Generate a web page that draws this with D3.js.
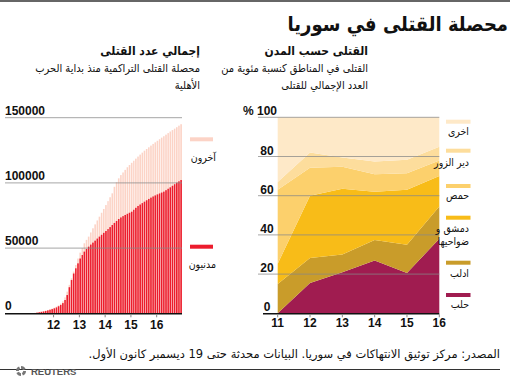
<!DOCTYPE html>
<html><head><meta charset="utf-8">
<script src="https://cdn.jsdelivr.net/npm/d3@7/dist/d3.min.js"></script>
<style>
html,body{margin:0;padding:0;background:#fff;}
svg{display:block;font-family:"Liberation Sans","DejaVu Sans",sans-serif;}
</style></head>
<body>
<svg id="c" width="510" height="378"></svg>
<script>
// ---------- DATA ----------
const title = "محصلة القتلى في سوريا";
const leftTitle = "إجمالي عدد القتلى";
const leftSub = ["محصلة القتلى التراكمية منذ بداية الحرب", "الأهلية"];
const rightTitle = "القتلى حسب المدن";
const rightSub = ["القتلى في المناطق كنسبة مئوية من", "العدد الإجمالي للقتلى"];
const footer = "المصدر: مركز توثيق الانتهاكات في سوريا.  البيانات محدثة حتى 19 ديسمبر كانون الأول.";

// Left chart: cumulative deaths, monthly from March 2011 to December 2016
const firstMonth = "2011-03";
const civilians = [100,250,500,800,1100,1400,1800,2200,2700,3200,3800,4500,5400,6400,7800,10200,14000,20000,25500,30500,34500,38300,42000,44700,47300,49300,51100,52700,54200,55700,57300,58800,60200,61700,63100,64600,66100,67700,69300,70800,72300,73500,74500,75400,76300,77100,77900,79400,80900,82300,83400,84500,85600,86700,87700,88700,89600,90400,91200,91900,92600,93300,94400,95500,96600,97800,99000,100200,101200,102200];
const allDeaths = [100,280,560,900,1250,1600,2050,2500,3050,3600,4300,5100,6100,7400,9200,12200,16600,21800,26800,32000,37000,42000,46500,50000,53700,56300,58800,62000,65200,68200,71200,74100,77100,80000,83000,86000,89000,92000,97000,100500,103500,106000,108000,110000,112000,113700,115400,117000,118600,120200,121700,123200,124700,126000,127300,128600,129900,131100,132300,133500,134700,135800,137000,138200,139400,140500,141600,142700,143900,145000];
const leftTicks = [0,50000,100000,150000];
const leftYearLabels = ["12","13","14","15","16"];
const leftLegend = ["آخرون","مدنيون"];

// Right chart: share of deaths by region (%)
const years = [11,12,13,14,15,16];
const aleppo   = [0, 15.5, 21, 27, 20.5, 38];
const idlib    = [15, 12.7, 9, 10.4, 14.5, 16.5];
const damascus = [10.3, 31.8, 33.5, 24.6, 28, 15.5];
const homs     = [37.7, 14.3, 11.3, 9, 8.5, 8];
const deir     = [4, 7.7, 4.7, 6.5, 6.9, 7];
const others   = [33, 18, 20.5, 22.5, 21.6, 15];
const regionNames = ["حلب","ادلب","دمشق و ضواحيها","حمص","دير الزور","اخرى"];
const rightTicks = [0,20,40,60,80,100];

// ---------- DRAW ----------
const svg = d3.select("#c");
const AR = "'DejaVu Sans',sans-serif";
const ARC = "'DejaVu Sans Condensed','DejaVu Sans',sans-serif";

function arText(x, y, str, size, weight, cond){
  return svg.append("text").attr("x", x).attr("y", y)
    .attr("direction","rtl").attr("text-anchor","start")
    .style("font-family", cond ? ARC : AR).style("font-stretch", cond ? "condensed" : "normal")
    .style("font-size", size+"px")
    .style("font-weight", weight).attr("fill","#111").text(str);
}

// rules
svg.append("line").attr("x1",0).attr("x2",510).attr("y1",1).attr("y2",1).attr("stroke","#333").attr("stroke-width",1.5);
svg.append("line").attr("x1",0).attr("x2",500).attr("y1",369.5).attr("y2",369.5).attr("stroke","#333").attr("stroke-width",1);

arText(508, 31, title, 20, "bold", true);
arText(200, 55, leftTitle, 12, "bold", true);
arText(200, 72, leftSub[0], 11, "normal", true);
arText(200, 89, leftSub[1], 11, "normal", true);
arText(368, 55, rightTitle, 12, "bold", true);
arText(368, 72, rightSub[0], 11, "normal", true);
arText(368, 89, rightSub[1], 11, "normal", true);
arText(500, 358, footer, 11.5, "normal", false);

// ---- Left chart ----
const parse = d3.timeParse("%Y-%m");
const m0 = parse(firstMonth);
const months = civilians.map((_, i) => d3.timeMonth.offset(m0, i));
const xL = d3.scaleTime().domain([new Date(2011,0,1), new Date(2017,0,1)]).range([27.8, 182.5]);
const yL = d3.scaleLinear().domain([0,150000]).range([313.3, 117.7]);
const gL = svg.append("g");
function barW(d){ return Math.max(0.5, xL(d3.timeMonth.offset(d,1)) - xL(d) - 0.6); }
gL.selectAll("rect.all").data(months).join("rect").attr("class","all")
  .attr("x", d => xL(d)).attr("width", d => barW(d))
  .attr("y", (d,i) => yL(allDeaths[i])).attr("height", (d,i) => yL(0)-yL(allDeaths[i]))
  .attr("fill","#fcd3c6");
gL.selectAll("rect.civ").data(months).join("rect").attr("class","civ")
  .attr("x", d => xL(d)).attr("width", d => barW(d))
  .attr("y", (d,i) => yL(civilians[i])).attr("height", (d,i) => yL(0)-yL(civilians[i]))
  .attr("fill","#ec1c2d");
leftTicks.forEach(v => {
  if(v>0) gL.append("line").attr("x1",5).attr("x2",182).attr("y1",yL(v)).attr("y2",yL(v))
    .attr("stroke","#888").attr("stroke-opacity",0.75).attr("stroke-width",1);
  gL.append("text").attr("x",5).attr("y",yL(v)-3).text(v)
    .style("font-size","12px").style("font-weight","bold").attr("fill","#111");
});
gL.append("line").attr("x1",5).attr("x2",182).attr("y1",yL(0)+0.5).attr("y2",yL(0)+0.5).attr("stroke","#111").attr("stroke-width",1.5);
leftYearLabels.forEach(lbl => {
  const d = new Date(2000+ +lbl, 0, 1);
  gL.append("line").attr("x1",xL(d)).attr("x2",xL(d)).attr("y1",yL(0)+1).attr("y2",yL(0)+4).attr("stroke","#888");
  gL.append("text").attr("x",xL(d)).attr("y",329).attr("text-anchor","middle").text(lbl)
    .style("font-size","12px").style("font-weight","bold").attr("fill","#111");
});
// left legend
const legL = [{c:"#fcd3c6", y:139.3, ty:161}, {c:"#ec1c2d", y:246.7, ty:268}];
legL.forEach((l,i) => {
  svg.append("rect").attr("x",190).attr("y",l.y-2).attr("width",23).attr("height",4).attr("fill",l.c);
  arText(216, l.ty, leftLegend[i], 10.5, "normal", true);
});

// ---- Right chart ----
const xR = d3.scaleLinear().domain([11,16]).range([277.7, 439.3]);
const yR = d3.scaleLinear().domain([0,100]).range([313.3, 117.3]);
const keys = ["aleppo","idlib","damascus","homs","deir","others"];
const series = {aleppo, idlib, damascus, homs, deir, others};
const rows = years.map((y,i) => { const r = {year:y}; keys.forEach(k => r[k] = series[k][i]); return r; });
const stacked = d3.stack().keys(keys)(rows);
const colors = {aleppo:"#a01c50", idlib:"#c99c2a", damascus:"#f8bc18", homs:"#fcd06c", deir:"#fddd9c", others:"#fee9c8"};
const area = d3.area().x(d => xR(d.data.year)).y0(d => yR(d[0])).y1(d => yR(Math.min(100,d[1])));
const gR = svg.append("g");
gR.selectAll("path").data(stacked).join("path").attr("d", area).attr("fill", d => colors[d.key]);
rightTicks.forEach(v => {
  if(v>0) gR.append("line").attr("x1",258).attr("x2",439.3).attr("y1",yR(v)).attr("y2",yR(v))
    .attr("stroke","#888").attr("stroke-opacity",0.75).attr("stroke-width",1);
  gR.append("text").attr("x",267).attr("y",yR(v)-2).attr("text-anchor","middle").text(v)
    .style("font-size","12px").style("font-weight","bold").attr("fill","#111");
});
gR.append("text").attr("x",243).attr("y",yR(100)-2).text("%")
  .style("font-size","12px").style("font-weight","bold").attr("fill","#111");
gR.append("line").attr("x1",263).attr("x2",439.3).attr("y1",yR(0)+0.5).attr("y2",yR(0)+0.5).attr("stroke","#111").attr("stroke-width",1.5);
years.forEach(y => {
  gR.append("line").attr("x1",xR(y)).attr("x2",xR(y)).attr("y1",yR(0)+1).attr("y2",yR(0)+4).attr("stroke","#888");
  gR.append("text").attr("x",xR(y)).attr("y",327).attr("text-anchor","middle").text(y)
    .style("font-size","12px").style("font-weight","bold").attr("fill","#111");
});
// right legend
const legR = [
  {k:"others", sy:121.7, ty:[135]},
  {k:"deir", sy:150.7, ty:[166]},
  {k:"homs", sy:186, ty:[199]},
  {k:"damascus", sy:217.7, ty:[231.5,244.5]},
  {k:"idlib", sy:262.7, ty:[276.5]},
  {k:"aleppo", sy:295, ty:[308]}
];
legR.forEach(l => {
  svg.append("rect").attr("x",446).attr("y",l.sy-2).attr("width",24.5).attr("height",4).attr("fill",colors[l.k]);
  const name = regionNames[keys.indexOf(l.k)];
  const lines = l.ty.length>1 ? ["دمشق و","ضواحيها"] : [name];
  lines.forEach((s,j) => arText(469, l.ty[j], s, 10.5, "normal", true));
});

// Reuters logo
const lg = svg.append("g").attr("transform","translate(21,371)");
[0,1,2,3].forEach(i => {
  const a0 = i*Math.PI/2, a1 = a0 + Math.PI/2 - 0.4;
  lg.append("path").attr("d", d3.arc().innerRadius(2.2).outerRadius(5)({startAngle:a0,endAngle:a1}))
    .attr("fill", "#777");
});
svg.append("text").attr("x",31).attr("y",375).text("REUTERS")
  .style("font-size","9.5px").style("font-weight","bold").attr("fill","#555");
</script>
</body></html>
